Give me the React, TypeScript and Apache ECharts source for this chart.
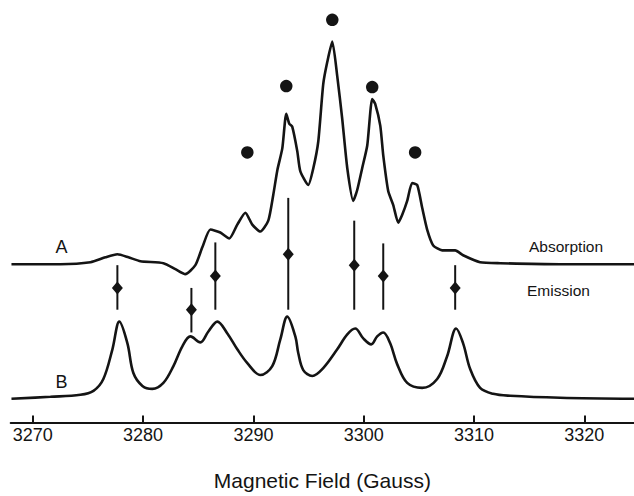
import React, { useEffect, useRef } from "react";
import * as echarts from "echarts";

// Spectrum A (absorption, experimental) : field (G) and intensity (arb.)
const fieldA = [3268.07, 3272.51, 3275.23, 3276.59, 3277.67, 3278.67, 3279.76, 3281.84, 3282.93, 3283.83, 3284.74, 3285.37, 3286.10, 3287.00, 3287.82, 3288.54, 3289.27, 3289.90, 3290.63, 3291.35, 3291.80, 3292.17, 3292.62, 3292.98, 3293.25, 3293.52, 3293.98, 3294.25, 3294.97, 3295.43, 3295.88, 3296.33, 3296.69, 3297.15, 3297.60, 3298.05, 3298.51, 3299.05, 3299.41, 3299.86, 3300.32, 3300.77, 3301.04, 3301.50, 3301.77, 3302.22, 3302.67, 3303.13, 3303.49, 3303.94, 3304.39, 3304.85, 3305.30, 3305.75, 3306.30, 3307.11, 3308.29, 3309.01, 3310.55, 3312.37, 3317.80, 3324.50];
const intensityA = [160, 160, 162, 167, 170, 167, 163, 161, 155, 150, 159, 177, 195, 192, 186, 200, 212, 200, 193, 204, 230, 255, 277, 312, 302, 299, 274, 254, 240, 257, 284, 342, 364, 385, 350, 307, 257, 224, 235, 257, 280, 327, 322, 300, 270, 234, 220, 202, 210, 224, 242, 240, 217, 195, 179, 174, 174, 169, 162, 161, 160, 160];

// Spectrum B (simulated)
const fieldB = [3268.07, 3271.60, 3274.32, 3275.50, 3276.40, 3277.22, 3277.85, 3278.58, 3279.12, 3279.94, 3280.84, 3281.84, 3282.75, 3283.56, 3284.29, 3285.19, 3285.92, 3286.73, 3287.64, 3288.54, 3289.45, 3290.63, 3291.71, 3292.44, 3293.07, 3293.80, 3294.07, 3294.52, 3295.34, 3296.33, 3297.60, 3298.51, 3299.23, 3299.96, 3300.68, 3301.22, 3301.77, 3302.40, 3303.03, 3303.94, 3305.30, 3306.66, 3307.56, 3308.38, 3309.01, 3309.65, 3310.55, 3311.73, 3313.27, 3317.80, 3324.50];
const intensityB = [24, 26, 28, 32, 44, 74, 102, 80, 50, 37, 34, 40, 57, 77, 87, 81, 92, 102, 90, 74, 60, 48, 57, 84, 107, 87, 70, 53, 47, 55, 74, 89, 95, 85, 79, 87, 91, 80, 59, 40, 35, 44, 67, 95, 80, 54, 35, 29, 27, 25, 24];

// Stick spectrum (line positions)
const stickField = [3277.67, 3284.38, 3286.55, 3293.16, 3299.14, 3301.77, 3308.29];
const stickTop = [159, 136, 182, 227, 204, 181, 159];
const stickBottom = [114, 91, 114, 114, 114, 114, 114];
const diamondValue = [136, 114, 148, 170, 159, 148, 136];

// Dot markers above absorption peaks
const dotField = [3289.45, 3292.98, 3297.15, 3300.77, 3304.66];
const dotValue = [273, 340, 407, 339, 273];

const tickValues = [3270, 3280, 3290, 3300, 3310, 3320];

const FONT = "'Liberation Sans', Arial, Helvetica, sans-serif";
const INK = "#141414";

export default function App() {
  const ref = useRef<HTMLDivElement>(null);
  useEffect(() => {
    if (!ref.current) return;
    const chart = echarts.init(ref.current, undefined, { renderer: "svg" });
    const zip = (a: number[], b: number[]) => a.map((v, i) => [v, b[i]]);
    chart.setOption({
      animation: false,
      backgroundColor: "#ffffff",
      grid: { left: 10.7, right: 0, top: 0, bottom: 69, containLabel: false },
      xAxis: {
        type: "value",
        min: 3268,
        max: 3324.5,
        name: "Magnetic Field (Gauss)",
        nameLocation: "middle",
        nameGap: 58,
        nameTextStyle: { fontFamily: FONT, fontSize: 21, color: INK, verticalAlign: "middle" },
        axisLine: { show: true, lineStyle: { color: INK, width: 2 } },
        axisTick: { show: true, inside: true, length: 7, lineStyle: { color: INK, width: 2 }, customValues: tickValues },
        axisLabel: {
          show: true,
          fontFamily: FONT,
          fontSize: 18,
          color: INK,
          margin: 12.5,
          verticalAlign: "middle",
          customValues: tickValues,
          formatter: (v: number) => String(v),
        },
        splitLine: { show: false },
        minorTick: { show: false },
      },
      yAxis: { type: "value", min: 0, max: 427, show: false, splitLine: { show: false } },
      series: [
        {
          type: "line",
          data: zip(fieldA, intensityA),
          showSymbol: false,
          smooth: 0.2,
          lineStyle: { color: INK, width: 2.6 },
        },
        {
          type: "line",
          data: zip(fieldB, intensityB),
          showSymbol: false,
          smooth: 0.35,
          lineStyle: { color: INK, width: 2.6 },
        },
        {
          type: "custom",
          data: stickField.map((f, i) => [f, stickTop[i], stickBottom[i]]),
          renderItem: (params: any, api: any) => {
            const p1 = api.coord([api.value(0), api.value(1)]);
            const p2 = api.coord([api.value(0), api.value(2)]);
            return {
              type: "line",
              shape: { x1: p1[0], y1: p1[1], x2: p2[0], y2: p2[1] },
              style: { stroke: INK, lineWidth: 2 },
            };
          },
          encode: { x: 0, y: [1, 2] },
        },
        {
          type: "scatter",
          data: zip(stickField, diamondValue),
          symbol: "diamond",
          symbolSize: [11, 13],
          itemStyle: { color: INK, opacity: 1 },
        },
        {
          type: "scatter",
          data: zip(dotField, dotValue),
          symbol: "circle",
          symbolSize: 12.5,
          itemStyle: { color: INK, opacity: 1 },
        },
      ],
      graphic: [
        { type: "text", x: 61.5, y: 246.5, style: { text: "A", font: `18px ${FONT}`, fill: INK, align: "center", verticalAlign: "middle" } },
        { type: "text", x: 61.5, y: 381.5, style: { text: "B", font: `18px ${FONT}`, fill: INK, align: "center", verticalAlign: "middle" } },
        { type: "text", x: 529, y: 246.5, style: { text: "Absorption", font: `15.5px ${FONT}`, fill: INK, align: "left", verticalAlign: "middle" } },
        { type: "text", x: 527, y: 290, style: { text: "Emission", font: `15.5px ${FONT}`, fill: INK, align: "left", verticalAlign: "middle" } },
      ],
    });
    return () => chart.dispose();
  }, []);
  return (
    <div
      ref={ref}
      style={{ position: "fixed", left: 0, top: 0, width: 634, height: 496, background: "#fff" }}
    />
  );
}
